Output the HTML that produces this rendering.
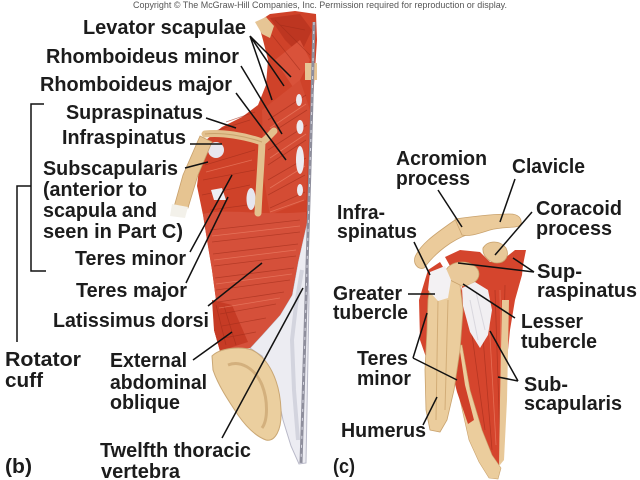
<!DOCTYPE html>
<html><head><meta charset="utf-8"><style>
html,body{margin:0;padding:0;background:#fff;}
svg{display:block;}
.t{font-family:"Liberation Sans",Arial,sans-serif;font-weight:bold;font-size:20px;fill:#1c1c1c;}
.ln{stroke:#111;stroke-width:1.5;fill:none;}
.fb{stroke:#a02c1a;stroke-width:0.8;fill:none;opacity:0.6;}
.fl{stroke:#f08a70;stroke-width:0.8;fill:none;opacity:0.6;}
</style></head><body>
<svg width="640" height="480" viewBox="0 0 640 480" xmlns="http://www.w3.org/2000/svg">
<rect width="640" height="480" fill="#fff"/>
<text x="133" y="8" font-family="Liberation Sans, Arial, sans-serif" font-size="9" fill="#555" textLength="374" lengthAdjust="spacingAndGlyphs">Copyright © The McGraw-Hill Companies, Inc. Permission required for reproduction or display.</text>

<!-- ===== Panel B anatomy ===== -->
<!-- fascia (white) -->
<path d="M307,222 L298,262 L292,295 L280,315 L262,335 L250,348 L262,356 L275,382 L283,420 L291,446 L299,464 L306,463 L309,300 Z" fill="#ececf2" stroke="#b9b9c8" stroke-width="1"/>
<path d="M302,270 L296,305 L292,340 L294,390 L298,440" stroke="#d3d4de" stroke-width="4" fill="none"/>
<!-- main red -->
<path d="M258,22 L270,14 L295,11 L316,14 L317,40 L313,100 L310,160 L307,222 L298,262 L292,295 L280,315 L262,335 L250,348 L220,351 L214,330 L216,300 L212,270 L207,240 L203,215 L197,186 L200,160 L206,140 L222,127 L242,117 L258,105 L266,85 L268,60 L263,40 Z" fill="#cf4229"/>
<!-- neck shading -->
<path d="M270,18 L300,14 L312,30 L300,55 L285,40 Z" fill="#bd3621"/>
<path d="M275,60 L300,40 L310,60 L295,90 Z" fill="#d9523a"/>
<!-- rhomboid zone -->
<path d="M262,110 L300,80 L310,110 L306,200 L270,215 L264,180 Z" fill="#d44c34"/>
<!-- latissimus lower band -->
<path d="M203,214 C225,208 262,216 306,212 L307,222 L298,262 L292,295 L280,315 L262,335 L250,348 L220,351 L214,330 L216,300 L212,270 L207,240 Z" fill="#d5503a"/>
<!-- external oblique area -->
<path d="M212,300 L232,305 L248,342 L220,351 L214,330 Z" fill="#c63b25"/>
<!-- fibers -->
<g class="fb">
<path d="M210,230 L300,220"/><path d="M212,242 L300,232"/><path d="M213,254 L298,244"/><path d="M214,266 L296,256"/><path d="M215,278 L294,268"/><path d="M216,290 L290,280"/><path d="M218,302 L284,292"/><path d="M220,314 L276,304"/><path d="M222,326 L266,318"/><path d="M224,338 L256,332"/>
<path d="M268,120 L306,95"/><path d="M268,135 L307,110"/><path d="M268,150 L307,125"/><path d="M268,165 L306,140"/><path d="M268,180 L306,158"/><path d="M268,195 L305,175"/><path d="M270,208 L305,192"/>
<path d="M205,165 L255,150"/><path d="M203,180 L255,170"/><path d="M202,195 L250,185"/><path d="M210,210 L248,205"/>
<path d="M275,20 L310,55"/><path d="M272,35 L300,70"/><path d="M280,25 L305,30"/>
<path d="M226,345 L216,305"/><path d="M236,345 L224,306"/>
<path d="M226,122 L255,112"/><path d="M212,132 L250,120"/>
</g>
<g class="fl">
<path d="M212,236 L300,226"/><path d="M214,260 L296,250"/><path d="M216,284 L292,274"/><path d="M219,308 L280,298"/><path d="M270,128 L306,104"/><path d="M270,158 L306,134"/><path d="M270,188 L305,166"/><path d="M206,172 L252,160"/><path d="M270,212 L304,200"/>
</g>
<!-- white tendon patches -->
<ellipse cx="216" cy="150" rx="8" ry="8" fill="#e8e6ee"/>
<path d="M211,190 L222,188 L226,200 L214,200 Z" fill="#eeeef3"/>
<ellipse cx="251" cy="199" rx="4.5" ry="11" fill="#e6e6ee"/>
<ellipse cx="300" cy="160" rx="4" ry="14" fill="#ecebf0"/>
<ellipse cx="300" cy="127" rx="3.5" ry="7" fill="#ecebf0"/>
<ellipse cx="299" cy="100" rx="3" ry="6" fill="#ecebf0"/>
<ellipse cx="300" cy="190" rx="3" ry="6" fill="#ecebf0"/>
<!-- neck bone -->
<path d="M255,22 L266,17 L274,26 L270,38 L262,34 Z" fill="#e6c595"/>
<path d="M305,63 L317,63 L317,80 L305,80 Z" fill="#e6c595"/>
<!-- spine -->
<path d="M314,22 L312,100 L309,200 L306,300 L303,400 L301,463" stroke="#8e8e9c" stroke-width="3" fill="none"/>
<path d="M314,22 L312,100 L309,200 L306,300 L303,400 L301,463" stroke="#d8d8e2" stroke-width="1" stroke-dasharray="3 6" fill="none"/>
<!-- arm (humerus) -->
<path d="M200,136 L212,142 L198,175 L188,208 L174,207 L183,175 Z" fill="#e6c491" stroke="#c79f6a" stroke-width="0.8"/>
<path d="M172,204 L188,207 L185,218 L170,216 Z" fill="#f3f1ea"/>
<!-- scapular spine -->
<path d="M205,134 C222,132 245,136 262,142 C266,140 270,135 274,131 M262,142 C261,165 259,190 258,213" stroke="#e3c18e" stroke-width="7" fill="none" stroke-linecap="round"/>
<path d="M205,134 C222,132 245,136 262,142" stroke="#c9a26d" stroke-width="1" fill="none"/>
<!-- iliac crest -->
<path d="M212,356 C220,348 240,346 252,350 C268,358 280,380 281,410 C282,430 275,442 266,440 C255,436 245,425 238,415 C228,400 218,385 213,370 Z" fill="#ebcf9f" stroke="#caa774" stroke-width="1"/>
<path d="M228,365 C240,360 255,368 262,385 C268,400 268,420 262,428" stroke="#d3b07d" stroke-width="3" fill="none"/>

<!-- ===== Panel C anatomy ===== -->
<path d="M445,257 L460,250 L480,252 L490,262 L500,262 L515,250 L526,250 L522,270 L512,290 L490,285 L470,272 L450,266 Z" fill="#d4452d"/>
<path d="M466,268 L490,268 L505,262 L524,255 L522,275 L515,300 L510,330 L507,360 L505,400 L503,440 L500,465 L490,462 L480,440 L470,410 L462,380 L458,340 L459,300 Z" fill="#d5452d"/>
<g class="fb"><path d="M480,300 L492,450"/><path d="M495,290 L500,440"/><path d="M505,285 L502,420"/><path d="M470,320 L485,430"/></g>
<g class="fl"><path d="M488,300 L496,445"/><path d="M500,290 L502,430"/></g>
<path d="M428,270 L440,262 L448,275 L440,300 L432,330 L427,360 L420,340 L419,300 Z" fill="#d4452d"/>
<!-- acromion arch -->
<path d="M415,257 C420,245 432,236 455,220 L468,222 L469,234 C452,240 436,252 424,268 C418,270 413,264 415,257 Z" fill="#ebcb9b" stroke="#c9a26d" stroke-width="0.8"/>
<!-- clavicle -->
<path d="M455,219 C470,217 490,214 510,214 C518,214 522,218 521,224 C519,229 505,226 490,230 C480,233 470,237 462,235 Z" fill="#ebcb9b" stroke="#c9a26d" stroke-width="0.8"/>
<!-- coracoid -->
<path d="M483,248 C488,240 500,240 506,248 C510,256 505,263 497,263 C490,263 482,256 483,248 Z" fill="#e8c898" stroke="#c9a26d" stroke-width="0.8"/>
<ellipse cx="462" cy="274" rx="17" ry="12" fill="#e9c99a" stroke="#c9a26d" stroke-width="0.8"/>
<path d="M453,345 L462,345 L470,390 L482,430 L492,455 L501,468 L498,479 L489,478 L479,462 L469,440 L460,400 Z" fill="#ebcd9d" stroke="#c9a26d" stroke-width="0.6"/>
<path d="M502,300 L509,300 L507,400 L504,460 L499,466 L500,400 Z" fill="#e8c898"/>
<path d="M450,330 L458,338 L465,385 L474,420 L468,424 L457,392 L449,360 Z" fill="#d04029"/>
<path d="M430,285 L446,278 L460,285 L463,310 L460,350 L454,390 L447,420 L440,432 L430,430 L426,410 L425,370 L427,330 L428,300 Z" fill="#ebcd9d" stroke="#c9a26d" stroke-width="0.8"/>
<path d="M438,300 L436,420 M448,300 L445,410" stroke="#d2ad78" stroke-width="1" fill="none"/>
<path d="M430,272 L445,266 L451,280 L448,298 L438,301 L428,290 Z" fill="#f3f1f3"/>
<path d="M462,288 L475,282 L488,290 L492,310 L488,335 L480,348 L470,332 L463,306 Z" fill="#f1eff2"/>
<path d="M470,300 L478,340 M476,292 L485,330" stroke="#d9d7de" stroke-width="1" fill="none"/>

<!-- ===== Leader lines ===== -->
<g class="ln">
<path d="M250,36 L272,100 M250,36 L284,86 M250,36 L291,77"/>
<path d="M241,66 L282,134"/>
<path d="M236,93 L286,160"/>
<path d="M206,118 L236,128"/>
<path d="M190,144 L222,144"/>
<path d="M185,168 L208,162"/>
<path d="M190,252 L232,175"/>
<path d="M186,283 L228,197"/>
<path d="M208,306 L262,263"/>
<path d="M193,360 L232,332"/>
<path d="M222,438 L303,288"/>
<path d="M44,104 L31,104 L31,271 L46,271"/>
<path d="M31,186 L17,186 L17,342"/>
<path d="M438,190 L462,227"/>
<path d="M515,179 L500,222"/>
<path d="M532,212 L495,255"/>
<path d="M414,242 L430,275"/>
<path d="M534,272 L458,263 M534,272 L513,258"/>
<path d="M408,294 L435,294"/>
<path d="M515,318 L463,284"/>
<path d="M413,358 L427,313 M413,358 L457,380"/>
<path d="M518,381 L490,331 M518,381 L498,377"/>
<path d="M423,425 L437,397"/>
</g>

<!-- ===== Labels ===== -->
<g class="t">
<text x="83" y="34" textLength="163" lengthAdjust="spacingAndGlyphs">Levator scapulae</text>
<text x="46" y="63" textLength="193" lengthAdjust="spacingAndGlyphs">Rhomboideus minor</text>
<text x="40" y="91" textLength="192" lengthAdjust="spacingAndGlyphs">Rhomboideus major</text>
<text x="66" y="119" textLength="137" lengthAdjust="spacingAndGlyphs">Supraspinatus</text>
<text x="62" y="144" textLength="124" lengthAdjust="spacingAndGlyphs">Infraspinatus</text>
<text x="43" y="175" textLength="135" lengthAdjust="spacingAndGlyphs">Subscapularis</text>
<text x="43" y="196" textLength="104" lengthAdjust="spacingAndGlyphs">(anterior to</text>
<text x="43" y="217" textLength="114" lengthAdjust="spacingAndGlyphs">scapula and</text>
<text x="43" y="238" textLength="140" lengthAdjust="spacingAndGlyphs">seen in Part C)</text>
<text x="75" y="265" textLength="111" lengthAdjust="spacingAndGlyphs">Teres minor</text>
<text x="76" y="297" textLength="111" lengthAdjust="spacingAndGlyphs">Teres major</text>
<text x="53" y="327" textLength="156" lengthAdjust="spacingAndGlyphs">Latissimus dorsi</text>
<text x="5" y="366" textLength="76" lengthAdjust="spacingAndGlyphs">Rotator</text>
<text x="5" y="387" textLength="38" lengthAdjust="spacingAndGlyphs">cuff</text>
<text x="110" y="367" textLength="77" lengthAdjust="spacingAndGlyphs">External</text>
<text x="110" y="389" textLength="97" lengthAdjust="spacingAndGlyphs">abdominal</text>
<text x="110" y="409" textLength="70" lengthAdjust="spacingAndGlyphs">oblique</text>
<text x="100" y="457" textLength="151" lengthAdjust="spacingAndGlyphs">Twelfth thoracic</text>
<text x="101" y="478" textLength="79" lengthAdjust="spacingAndGlyphs">vertebra</text>
<text x="5" y="473" textLength="27" lengthAdjust="spacingAndGlyphs">(b)</text>

<text x="396" y="165" textLength="91" lengthAdjust="spacingAndGlyphs">Acromion</text>
<text x="396" y="185" textLength="74" lengthAdjust="spacingAndGlyphs">process</text>
<text x="512" y="173" textLength="73" lengthAdjust="spacingAndGlyphs">Clavicle</text>
<text x="337" y="219" textLength="48" lengthAdjust="spacingAndGlyphs">Infra-</text>
<text x="337" y="238" textLength="80" lengthAdjust="spacingAndGlyphs">spinatus</text>
<text x="536" y="215" textLength="86" lengthAdjust="spacingAndGlyphs">Coracoid</text>
<text x="536" y="235" textLength="76" lengthAdjust="spacingAndGlyphs">process</text>
<text x="537" y="278" textLength="45" lengthAdjust="spacingAndGlyphs">Sup-</text>
<text x="537" y="297" textLength="100" lengthAdjust="spacingAndGlyphs">raspinatus</text>
<text x="333" y="300" textLength="69" lengthAdjust="spacingAndGlyphs">Greater</text>
<text x="333" y="319" textLength="75" lengthAdjust="spacingAndGlyphs">tubercle</text>
<text x="521" y="328" textLength="62" lengthAdjust="spacingAndGlyphs">Lesser</text>
<text x="521" y="348" textLength="76" lengthAdjust="spacingAndGlyphs">tubercle</text>
<text x="357" y="365" textLength="51" lengthAdjust="spacingAndGlyphs">Teres</text>
<text x="357" y="385" textLength="54" lengthAdjust="spacingAndGlyphs">minor</text>
<text x="524" y="391" textLength="44" lengthAdjust="spacingAndGlyphs">Sub-</text>
<text x="524" y="410" textLength="98" lengthAdjust="spacingAndGlyphs">scapularis</text>
<text x="341" y="437" textLength="85" lengthAdjust="spacingAndGlyphs">Humerus</text>
<text x="333" y="473" textLength="22" lengthAdjust="spacingAndGlyphs">(c)</text>
</g>
</svg>
</body></html>
